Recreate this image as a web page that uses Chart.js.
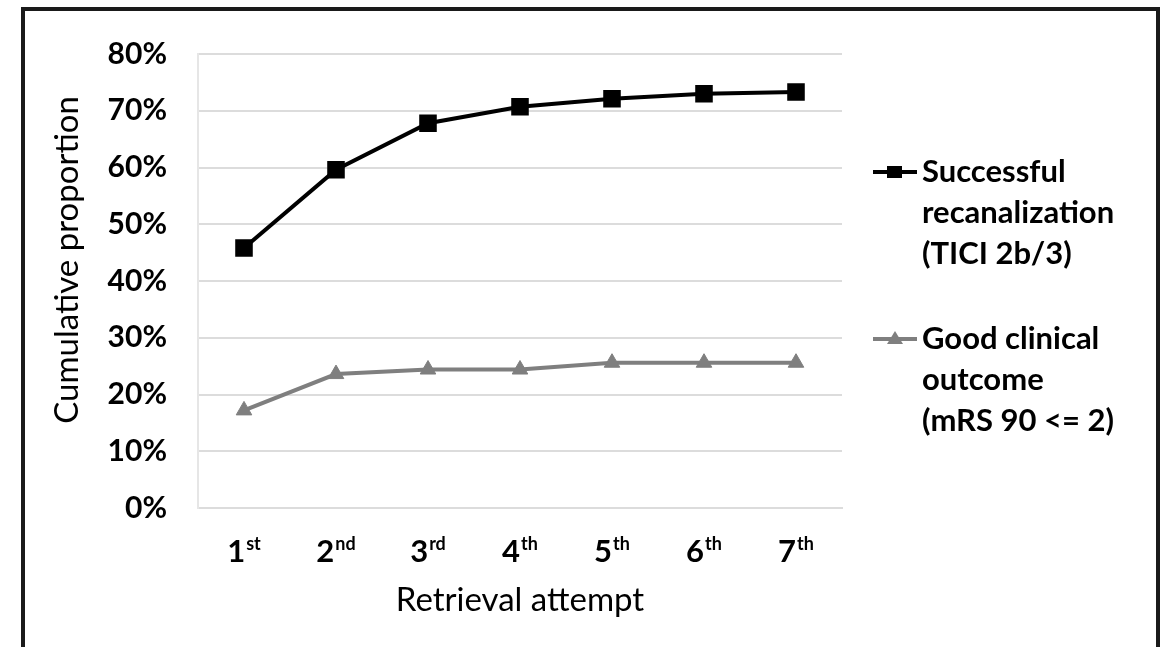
<!DOCTYPE html>
<html>
<head>
<meta charset="utf-8">
<script src="https://cdn.jsdelivr.net/npm/chart.js@4.4.0/dist/chart.umd.min.js"></script>
<style>
  html, body { margin: 0; padding: 0; background: #fff; overflow: hidden; }
  #wrap { position: absolute; left: 0; top: 0; width: 1166px; height: 647px; }
  #frame { position: absolute; left: 21px; top: 7px; width: 1131px; height: 700px; border: 4px solid #1a1a1a; border-bottom: none; pointer-events: none; }
</style>
</head>
<body>
<div id="wrap"><canvas id="chart" width="1166" height="647"></canvas></div>
<div id="frame"></div>
<script>
const attempts = ['1st', '2nd', '3rd', '4th', '5th', '6th', '7th'];
const attemptNums = ['1', '2', '3', '4', '5', '6', '7'];
const attemptSups = ['st', 'nd', 'rd', 'th', 'th', 'th', 'th'];
const recanalization = [45.8, 59.6, 67.8, 70.7, 72.1, 73.0, 73.3];
const goodOutcome = [17.2, 23.6, 24.4, 24.4, 25.6, 25.6, 25.6];
const yTicks = [0, 10, 20, 30, 40, 50, 60, 70, 80];
const legendLines = [
  ['Successful', 'recanalization', '(TICI 2b/3)'],
  ['Good clinical', 'outcome', '(mRS 90 <= 2)']
];

const FONT = 'Lato, "Open Sans", sans-serif';

// x labels with superscript suffix
const supTicks = {
  id: 'supTicks',
  afterDraw(chart) {
    const ctx = chart.ctx, x = chart.scales.x;
    ctx.save();
    ctx.fillStyle = '#000';
    ctx.textBaseline = 'alphabetic';
    attemptNums.forEach((n, i) => {
      ctx.font = 'bold 31px ' + FONT;
      const wn = ctx.measureText(n).width;
      ctx.font = 'bold 18px ' + FONT;
      const ws = ctx.measureText(attemptSups[i]).width;
      const cx = x.getPixelForValue(i);
      const left = cx - (wn + ws + 1) / 2;
      ctx.font = 'bold 31px ' + FONT;
      ctx.textAlign = 'left';
      ctx.fillText(n, left, 562);
      ctx.font = 'bold 18px ' + FONT;
      ctx.fillText(attemptSups[i], left + wn + 1, 550);
    });
    ctx.restore();
  }
};

// legend on the right with wrapped text
const sideLegend = {
  id: 'sideLegend',
  afterDraw(chart) {
    const ctx = chart.ctx;
    const tops = [172, 339];
    ctx.save();
    chart.data.datasets.forEach((ds, k) => {
      const y = tops[k];
      ctx.strokeStyle = ds.borderColor;
      ctx.fillStyle = ds.borderColor;
      ctx.lineWidth = 4;
      ctx.beginPath(); ctx.moveTo(873, y); ctx.lineTo(917, y); ctx.stroke();
      ctx.beginPath();
      if (ds.pointStyle === 'rect') ctx.rect(887, y - 6, 15, 12);
      else { ctx.moveTo(895, y - 8); ctx.lineTo(903, y + 5); ctx.lineTo(887, y + 5); ctx.closePath(); }
      ctx.fill();
      ctx.fillStyle = '#000';
      ctx.font = 'bold 31px ' + FONT;
      ctx.textAlign = 'left';
      ctx.textBaseline = 'middle';
      legendLines[k].forEach((t, j) => ctx.fillText(t, 922, y + j * 41));
    });
    ctx.restore();
  }
};

document.fonts.load('bold 30px Lato').then(() => document.fonts.load('30px Lato')).finally(() => {
  new Chart(document.getElementById('chart'), {
    type: 'line',
    data: {
      labels: attempts,
      datasets: [
        { label: 'Successful recanalization (TICI 2b/3)', data: recanalization, borderColor: '#000', backgroundColor: '#000',
          borderWidth: 4, pointStyle: 'rect', pointRadius: 11, pointBorderWidth: 2, tension: 0 },
        { label: 'Good clinical outcome (mRS 90 <= 2)', data: goodOutcome, borderColor: '#7f7f7f', backgroundColor: '#7f7f7f',
          borderWidth: 4, pointStyle: 'triangle', pointRadius: 9, pointBorderWidth: 1, tension: 0 }
      ]
    },
    options: {
      responsive: false,
      animation: false,
      layout: { padding: { left: 20, top: 54, right: 324, bottom: 0 } },
      plugins: { legend: { display: false }, tooltip: { enabled: false } },
      scales: {
        x: {
          offset: true,
          grid: { display: false, drawTicks: false },
          border: { display: true, color: '#dcdcdc', width: 2 },
          ticks: { color: 'rgba(0,0,0,0)', font: { size: 30, family: FONT } },
          title: { display: true, text: 'Retrieval attempt', color: '#000', font: { size: 33, family: FONT, lineHeight: 1.2 }, padding: { top: 0, bottom: 27 } },
          afterFit(s) { s.height = 139; }
        },
        y: {
          min: 0, max: 80,
          afterBuildTicks(s) { s.ticks = yTicks.map(v => ({ value: v })); },
          grid: { color: '#dcdcdc', lineWidth: 2, drawTicks: false },
          border: { display: true, color: '#e6e6e6', width: 2 },
          ticks: { padding: 31, color: '#000', font: { size: 30, weight: 'bold', family: FONT }, callback: v => v + '%' },
          title: { display: true, text: '     Cumulative proportion', color: '#000', font: { size: 33, family: FONT, lineHeight: 1.2 }, padding: { top: 28, bottom: 0 } },
          afterFit(s) { s.width = 178; }
        }
      }
    },
    plugins: [supTicks, sideLegend]
  });
});
</script>
</body>
</html>
